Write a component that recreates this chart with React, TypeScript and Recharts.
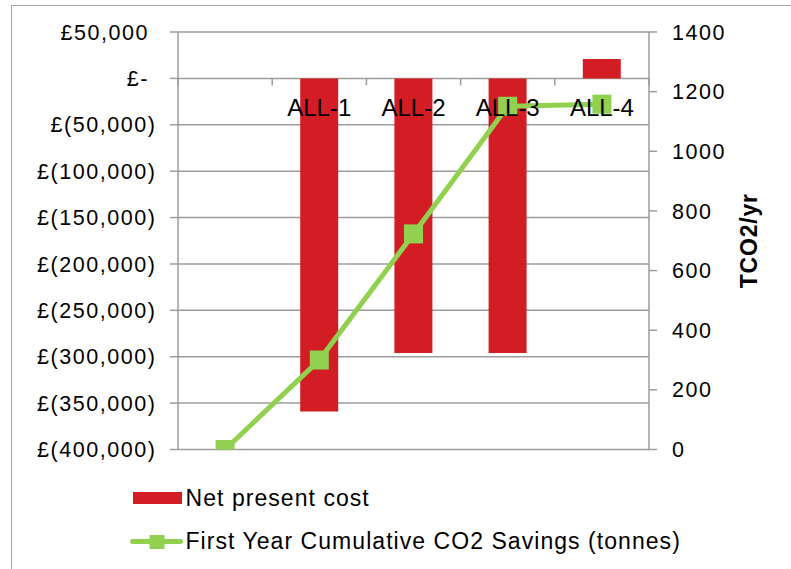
import React from 'react';
import { ComposedChart, Bar, Line, XAxis, YAxis, CartesianGrid, Legend } from 'recharts';

const categories = ['', 'ALL-1', 'ALL-2', 'ALL-3', 'ALL-4'];
const netPresentCost = [null, -359000, -296000, -296000, 21000];
const co2Savings = [0, 300, 723, 1151, 1158];
const leftTicks = [50000, 0, -50000, -100000, -150000, -200000, -250000, -300000, -350000, -400000];
const rightTicks = [0, 200, 400, 600, 800, 1000, 1200, 1400];

const seriesNames = ['Net present cost', 'First Year Cumulative CO2 Savings (tonnes)'];

const data = categories.map((c, i) => ({ cat: c, npc: netPresentCost[i], co2: co2Savings[i] }));

const W = 791;
const H = 569;
const TOP = 32;
const BOTTOM = 119.5;
const LEFT_W = 178;
const RIGHT_W = 142;
const PLOT_H = H - TOP - BOTTOM;
const PLOT_W = W - LEFT_W - RIGHT_W;
const LEFT_MIN = -400000;
const LEFT_MAX = 50000;

const RED = '#D21D24';
const GREEN = '#92D050';
const GRID = '#9c9c9c';
const FONT = '"Liberation Sans", Arial, sans-serif';

function withCommas(n: number): string {
  const s = String(Math.round(Math.abs(n)));
  return s.replace(/\B(?=(\d{3})+(?!\d))/g, ',');
}

function gbp(v: number): string {
  if (v === 0) return '£-\u00A0';
  if (v < 0) return `£(${withCommas(v)})`;
  return `£${withCommas(v)}\u00A0`;
}

function CategoryTick(props: any) {
  const { x, y, payload, index } = props;
  const zeroY = y - PLOT_H * (0 - LEFT_MIN) / (LEFT_MAX - LEFT_MIN);
  const band = PLOT_W / categories.length;
  const left = x - band / 2;
  const right = x + band / 2;
  return (
    <g>
      <line x1={left} x2={left} y1={zeroY} y2={zeroY + 7} stroke={GRID} strokeWidth={1.5} />
      {index === categories.length - 1 ? (
        <line x1={right} x2={right} y1={zeroY} y2={zeroY + 7} stroke={GRID} strokeWidth={1.5} />
      ) : null}
      {payload.value ? (
        <text x={x} y={zeroY + 38} textAnchor="middle" fontSize={24} fontFamily={FONT} fill="#000">
          {payload.value}
        </text>
      ) : null}
    </g>
  );
}

function SquareDot(props: any) {
  const { cx, cy, index } = props;
  if (cx == null || cy == null) return <g key={`d${index}`} />;
  return <rect key={`d${index}`} x={cx - 9.5} y={cy - 9.5} width={19} height={19} fill={GREEN} />;
}

function LegendContent(props: any) {
  const payload = props.payload || [];
  const barItem = payload.find((p: any) => p.dataKey === 'npc');
  const lineItem = payload.find((p: any) => p.dataKey === 'co2');
  const barName = barItem ? barItem.value : seriesNames[0];
  const lineName = lineItem ? lineItem.value : seriesNames[1];
  const textStyle = { fontFamily: FONT, fontSize: 23, letterSpacing: 1.05, fill: '#000' } as any;
  return (
    <svg width={W} height={H} style={{ position: 'absolute', left: 0, top: 0, overflow: 'visible' }}>
      <rect x={133} y={492} width={49} height={12} fill={RED} />
      <text x={185.5} y={506} style={textStyle}>{barName}</text>
      <line x1={132.5} x2={180.5} y1={541.5} y2={541.5} stroke={GREEN} strokeWidth={5} strokeLinecap="round" />
      <rect x={149.5} y={535} width={15} height={14} fill={GREEN} />
      <text x={185.5} y={548.5} style={textStyle}>{lineName}</text>
    </svg>
  );
}

const tickStyle = { fontFamily: FONT, fontSize: 21.5, letterSpacing: 1.55, fill: '#000' };

export default function App() {
  return (
    <div style={{ position: 'absolute', left: 0, top: 0, width: W, height: H, overflow: 'hidden', background: '#fff' }}>
      <div
        style={{
          position: 'absolute',
          left: 11,
          top: 5,
          width: 900,
          height: 700,
          border: '1.5px solid #a6a6a6',
          boxSizing: 'border-box',
        }}
      />
      <div style={{ position: 'absolute', left: 0, top: 0 }}>
        <ComposedChart
          width={W}
          height={H}
          data={data}
          margin={{ top: TOP, right: 0, bottom: 0, left: 0 }}
          barCategoryGap={0}
        >
          <CartesianGrid yAxisId="left" vertical={false} stroke={GRID} strokeWidth={1.5} />
          <XAxis
            dataKey="cat"
            height={BOTTOM}
            axisLine={false}
            tickLine={false}
            tickSize={0}
            tickMargin={0}
            interval={0}
            tick={<CategoryTick />}
          />
          <YAxis
            yAxisId="left"
            orientation="left"
            width={LEFT_W}
            domain={[LEFT_MIN, LEFT_MAX]}
            ticks={leftTicks}
            interval={0}
            allowDataOverflow
            tickFormatter={gbp}
            axisLine={{ stroke: GRID, strokeWidth: 1.5 }}
            tickLine={{ stroke: GRID, strokeWidth: 1.5 }}
            tickSize={8}
            tickMargin={13.5}
            tick={{ ...tickStyle, style: tickStyle } as any}
          />
          <YAxis
            yAxisId="right"
            orientation="right"
            width={RIGHT_W}
            domain={[0, 1400]}
            ticks={rightTicks}
            interval={0}
            allowDataOverflow
            axisLine={{ stroke: GRID, strokeWidth: 1.5 }}
            tickLine={{ stroke: GRID, strokeWidth: 1.5 }}
            tickSize={8}
            tickMargin={15}
            tick={{ ...tickStyle, style: tickStyle } as any}
            label={{
              value: 'TCO2/yr',
              angle: -90,
              position: 'center',
              dx: 28.5,
              style: { fontFamily: FONT, fontSize: 23, fontWeight: 'bold', letterSpacing: 0.8, fill: '#000' },
            }}
          />
          <Legend
            layout="horizontal"
            align="center"
            verticalAlign="middle"
            wrapperStyle={{ left: 0, top: 0, width: W, height: H, pointerEvents: 'none' }}
            content={<LegendContent />}
          />
          <Bar
            yAxisId="left"
            dataKey="npc"
            name={seriesNames[0]}
            fill={RED}
            barSize={38}
            isAnimationActive={false}
          />
          <Line
            yAxisId="right"
            dataKey="co2"
            name={seriesNames[1]}
            stroke={GREEN}
            strokeWidth={5}
            dot={<SquareDot />}
            activeDot={false}
            isAnimationActive={false}
          />
        </ComposedChart>
      </div>
    </div>
  );
}
